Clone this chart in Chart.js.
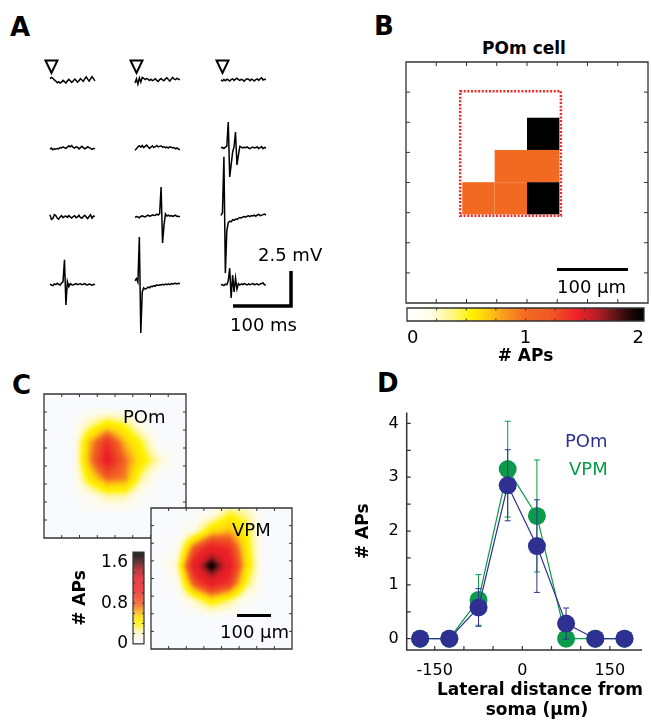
<!DOCTYPE html>
<html>
<head>
<meta charset="utf-8">
<script src="https://cdn.jsdelivr.net/npm/chart.js@4.4.0/dist/chart.umd.min.js"></script>
<style>
  body { margin: 0; background: #fff; width: 651px; height: 725px; position: relative; overflow: hidden;
         font-family: 'DejaVu Sans', sans-serif; }
  canvas, .t, .bar { position: absolute; }
  .t { white-space: nowrap; line-height: 1; color: #000; font-size: 18px; }
  .letter { font-weight: bold; font-size: 26px; }
  .bold { font-weight: bold; font-size: 17px; }
  .bar { background: #000; }
</style>
</head>
<body>
<!-- panel letters -->
<div class="t letter" style="left:10px;top:13.5px">A</div>
<div class="t letter" style="left:374px;top:12.5px">B</div>
<div class="t letter" style="left:12px;top:371.5px">C</div>
<div class="t letter" style="left:377px;top:369.5px">D</div>

<!-- A -->
<canvas id="chartA" width="260" height="290" style="left:40px;top:50px"></canvas>
<div class="t" style="left:258px;top:246.3px">2.5 mV</div>
<div class="t" style="left:230px;top:315.8px">100 ms</div>

<!-- B -->
<div class="t bold" style="left:424px;width:200px;text-align:center;top:39.8px">POm cell</div>
<canvas id="chartB" width="246" height="245" style="left:404px;top:60px"></canvas>
<div class="bar" style="left:557px;top:267.5px;width:71px;height:3.5px"></div>
<div class="t" style="left:557px;top:278px">100 μm</div>
<canvas id="barB" width="251" height="65" style="left:400px;top:305px"></canvas>

<!-- C -->
<canvas id="chartCpom" width="146" height="148" style="left:42px;top:392px"></canvas>
<div class="t" style="left:123px;top:407.8px">POm</div>
<canvas id="chartCvpm" width="145" height="145" style="left:149px;top:506px"></canvas>
<div class="t" style="left:232px;top:521.3px">VPM</div>
<div class="bar" style="left:237px;top:614px;width:34px;height:3.3px"></div>
<div class="t" style="left:220px;top:622.8px">100 μm</div>
<canvas id="barC" width="90" height="122" style="left:60px;top:537px"></canvas>

<!-- D -->
<canvas id="chartD" width="311" height="330" style="left:340px;top:395px"></canvas>
<div class="t" style="left:565px;top:431.8px;color:#2e3192">POm</div>
<div class="t" style="left:569px;top:459.8px;color:#0b9b4a">VPM</div>
<div class="t bold" style="left:437px;width:200px;text-align:center;top:679px;line-height:20px">Lateral distance from<br>soma (μm)</div>

<script>
// ---- A: example traces (mV relative to baseline, one sample per 2.5 ms)
const traceStepMs = 2.5;
const traceR1C1 = [0.10, 0.18, 0.12, 0.00, -0.08, -0.20, -0.12, -0.22, -0.15, -0.03, -0.12, -0.22, -0.08, 0.04, -0.06, -0.18, -0.08, 0.06, -0.03, -0.16, -0.06, 0.10, 0.00, -0.10, 0.08, 0.22, 0.06, -0.08, 0.08, 0.24, 0.10, -0.06];
const traceR1C2 = [-0.22, 0.08, -0.30, 0.15, -0.15, 0.18, 0.12, 0.03, 0.10, 0.06, -0.04, 0.05, -0.05, 0.00, 0.08, -0.03, -0.10, 0.03, 0.10, 0.00, -0.06, 0.08, 0.16, 0.03, -0.08, 0.06, 0.18, 0.06, 0.03, 0.12, 0.06, 0.00];
const traceR1C3 = [0.00, -0.07, 0.03, -0.05, 0.05, 0.00, -0.08, 0.03, 0.08, -0.03, 0.06, 0.12, 0.03, -0.03, 0.05, 0.00, -0.09, 0.03, 0.09, 0.05, -0.05, 0.06, 0.00, -0.08, 0.03, 0.08, -0.03, 0.09, 0.16, 0.00, 0.05, 0.03];
const traceR2C1 = [-0.08, 0.00, -0.12, -0.06, -0.09, -0.03, -0.05, 0.03, 0.00, 0.08, 0.03, -0.03, 0.06, 0.16, 0.09, 0.18, 0.05, 0.00, 0.09, 0.06, -0.06, 0.03, 0.12, 0.03, -0.06, 0.00, 0.09, 0.03, -0.03, -0.09, -0.03, -0.08];
const traceR2C2 = [-0.16, -0.06, 0.08, 0.16, 0.06, 0.18, 0.03, 0.12, 0.21, 0.09, -0.03, 0.06, 0.16, 0.03, 0.09, 0.18, 0.08, 0.12, 0.16, 0.06, 0.09, 0.03, 0.06, 0.00, 0.09, 0.06, 0.00, 0.03, -0.06, 0.00, -0.08, -0.12];
const traceR2C3 = [0.00, 0.05, -0.04, 0.06, 0.12, 1.86, -2.07, -1.20, -0.30, 0.10, 1.14, -1.21, -0.50, 0.12, 0.06, 0.00, 0.05, 0.03, 0.08, 0.00, -0.05, 0.03, 0.07, 0.00, 0.04, 0.08, -0.03, 0.03, 0.10, -0.05, 0.04, 0.00];
const traceR3C1 = [0.16, -0.18, -0.12, 0.16, 0.09, -0.08, -0.16, 0.00, 0.09, -0.06, 0.03, 0.06, -0.03, 0.09, 0.00, -0.08, 0.03, 0.08, -0.06, 0.00, 0.12, -0.03, -0.09, 0.03, 0.12, 0.00, -0.12, 0.03, 0.16, -0.09, 0.06, 0.03];
const traceR3C2 = [-0.03, 0.03, 0.00, -0.06, 0.03, 0.08, 0.03, 0.00, 0.07, 0.13, 0.05, 0.08, 0.15, 0.10, 0.12, 0.20, 0.14, 0.24, 2.14, -1.86, -0.60, 0.22, 0.06, 0.12, 0.05, 0.10, 0.03, 0.08, 0.12, 0.03, 0.05, 0.02];
const traceR3C3 = [0.10, 0.30, 4.29, -4.00, -1.00, -0.40, -0.30, -0.35, -0.20, -0.25, -0.15, -0.18, -0.10, -0.05, -0.08, 0.00, 0.02, -0.02, 0.05, 0.08, 0.02, 0.10, 0.07, 0.12, 0.05, 0.14, 0.18, 0.09, 0.12, 0.16, 0.20, 0.13];
const traceR4C1 = [0.06, 0.00, -0.05, 0.08, 0.02, 0.12, 0.05, 0.00, 0.14, 0.22, 1.80, -1.43, 0.25, -0.12, 0.10, 0.02, 0.00, 0.05, 0.10, 0.02, 0.06, 0.08, 0.02, 0.05, 0.10, 0.02, 0.00, 0.06, 0.04, -0.03, 0.05, 0.02];
const traceR4C2 = [0.30, 0.45, 0.20, 3.43, -3.43, -0.50, -0.20, -0.30, -0.25, -0.15, -0.20, -0.10, -0.12, -0.05, -0.08, 0.00, -0.04, 0.02, 0.00, 0.05, 0.00, 0.06, 0.02, 0.08, 0.02, 0.10, 0.05, 0.10, 0.12, 0.07, 0.12, 0.09];
const traceR4C3 = [0.00, 0.03, -0.04, 0.06, 0.02, 0.30, 1.20, -0.93, 0.70, -0.50, 0.50, -0.30, 0.10, 0.00, 0.08, 0.02, 0.10, 0.05, 0.00, 0.08, 0.02, 0.06, 0.10, 0.02, 0.05, 0.08, 0.00, 0.06, 0.10, 0.14, 0.02, 0.00];
const traceGrid = [
  [traceR1C1, traceR1C2, traceR1C3],
  [traceR2C1, traceR2C2, traceR2C3],
  [traceR3C1, traceR3C2, traceR3C3],
  [traceR4C1, traceR4C2, traceR4C3]
];
// layout of the trace grid in chart units (ms, mV)
const traceColStartMs = [17.2, 163.8, 312.1];
const traceRowBaseMv = [18.57, 13.71, 8.79, 3.93];

// ---- B: single POm cell map (APs per site), rows top to bottom
const bCellValues = [
  [0, 0, 2],
  [0, 1, 1],
  [1, 1, 2]
];
const bRange = [0, 2];
const bBarTicks = [0, 1, 2];

// ---- C: averaged maps, coarse grids (rows top to bottom)
const pomMap = [
  [0, 0, 0, 0, 0, 0, 0, 0],
  [0, 0, 0, 0, 0, 0, 0, 0],
  [0, 0, 0.25, 0.45, 0.35, 0.1, 0, 0],
  [0, 0, 0.6, 1.0, 0.6, 0.35, 0, 0],
  [0, 0, 0.65, 1.15, 0.75, 0.45, 0.2, 0],
  [0, 0, 0.45, 0.75, 0.7, 0.25, 0, 0],
  [0, 0, 0.1, 0.25, 0.25, 0.05, 0, 0],
  [0, 0, 0, 0, 0, 0, 0, 0]
];
const vpmMap = [
  [0, 0, 0, 0.1, 0.35, 0.25, 0, 0],
  [0, 0, 0.15, 0.5, 0.6, 0.4, 0, 0],
  [0, 0.05, 0.8, 1.15, 1.0, 0.45, 0, 0],
  [0, 0.2, 1.15, 1.8, 1.2, 0.5, 0, 0],
  [0, 0.05, 0.8, 1.15, 0.95, 0.35, 0, 0],
  [0, 0, 0.2, 0.45, 0.3, 0.05, 0, 0],
  [0, 0, 0, 0, 0, 0, 0, 0],
  [0, 0, 0, 0, 0, 0, 0, 0]
];
const cRange = [0, 1.8];
const cTickVals = [0, 0.8, 1.6];

// ---- D: APs vs lateral distance
const distances = [-175, -125, -75, -25, 25, 75, 125, 175];
const pomAPs = [0, 0, 0.58, 2.85, 1.72, 0.28, 0, 0];
const pomErr = [0, 0, 0.35, 0.66, 0.86, 0.29, 0, 0];
const vpmAPs = [0, 0, 0.72, 3.15, 2.28, 0, 0, 0];
const vpmErr = [0, 0, 0.47, 0.89, 1.04, 0, 0, 0];
const dXTicks = [-150, 0, 150];
const dYTicks = [0, 1, 2, 3, 4];

const POM_BLUE = '#2e3192';
const VPM_GREEN = '#0b9b4a';

Chart.defaults.font.family = "'DejaVu Sans', sans-serif";
Chart.defaults.color = '#000';
Chart.defaults.animation = false;
Chart.defaults.events = [];
Chart.defaults.plugins.legend.display = false;
Chart.defaults.plugins.tooltip.enabled = false;

// colour maps white -> yellow -> orange -> red -> black
const bStops = [
  [0, '#ffffff'], [0.1, '#fffde8'], [0.2, '#fff57a'], [0.27, '#fff200'], [0.33, '#fdd20c'],
  [0.4, '#f9a31b'], [0.5, '#f26a22'], [0.6, '#f15a24'], [0.72, '#ec2227'], [0.8, '#b81e24'],
  [0.88, '#601516'], [0.95, '#1a0505'], [1, '#000000']
];
const cStops = [
  [0, '#f8fafd'], [0.08, '#fdfbe6'], [0.15, '#fff6a0'], [0.22, '#fff200'], [0.3, '#fed80a'],
  [0.36, '#f9a11b'], [0.42, '#f36523'], [0.5, '#ef4425'], [0.6, '#ea2127'], [0.7, '#e41f26'],
  [0.8, '#b01c20'], [0.88, '#5a1212'], [0.95, '#150303'], [1, '#000000']
];
function hexRgb(h) { return [1, 3, 5].map(k => parseInt(h.slice(k, k + 2), 16)); }
function makeCmap(stops) {
  const s = stops.map(p => [p[0], hexRgb(p[1])]);
  return t => {
    t = Math.max(0, Math.min(1, t));
    for (let k = 1; k < s.length; k++) {
      if (t <= s[k][0]) {
        const [t0, c0] = s[k - 1], [t1, c1] = s[k];
        const f = (t - t0) / (t1 - t0);
        return c0.map((v, m) => Math.round(v + (c1[m] - v) * f));
      }
    }
    return s[s.length - 1][1];
  };
}
const cmapB = makeCmap(bStops);
const cmapC = makeCmap(cStops);
const rgbStr = c => 'rgb(' + c.join(',') + ')';

// frame + inward ticks
const frame = {
  id: 'frame',
  afterDraw(chart, args, o) {
    const { ctx, chartArea: a, scales: { x, y } } = chart;
    ctx.save();
    ctx.strokeStyle = o.color || '#333';
    ctx.lineWidth = o.tickWidth || 1;
    ctx.beginPath();
    (o.xTicks || []).forEach(v => {
      const p = x.getPixelForValue(v);
      ctx.moveTo(p, a.bottom); ctx.lineTo(p, a.bottom - o.len);
      if (o.box) { ctx.moveTo(p, a.top); ctx.lineTo(p, a.top + o.len); }
    });
    (o.yTicks || []).forEach(v => {
      const p = y.getPixelForValue(v);
      ctx.moveTo(a.left, p); ctx.lineTo(a.left + o.len, p);
      if (o.box) { ctx.moveTo(a.right, p); ctx.lineTo(a.right - o.len, p); }
    });
    ctx.stroke();
    ctx.lineWidth = o.width || 1.2;
    ctx.beginPath();
    if (o.box) {
      ctx.rect(a.left, a.top, a.right - a.left, a.bottom - a.top);
    } else {
      ctx.moveTo(a.left, a.top); ctx.lineTo(a.left, a.bottom); ctx.lineTo(a.right, a.bottom);
    }
    ctx.stroke();
    ctx.restore();
  }
};

function hiddenScales(xmin, xmax, ymin, ymax, rev) {
  return {
    x: { type: 'linear', display: false, min: xmin, max: xmax },
    y: { type: 'linear', display: false, min: ymin, max: ymax, reverse: !!rev }
  };
}
const range = (a, b, s) => { const r = []; for (let v = a; v <= b + 1e-9; v += s) r.push(+v.toFixed(4)); return r; };

// ---------- A
const aDatasets = [];
traceGrid.forEach((row, r) => row.forEach((tr, c) => {
  aDatasets.push({
    data: tr.map((v, i) => ({ x: traceColStartMs[c] + i * traceStepMs, y: traceRowBaseMv[r] + v })),
    borderColor: '#000', borderWidth: 1.5, pointRadius: 0, tension: 0, fill: false
  });
}));
const aMarks = {
  id: 'aMarks',
  afterDraw(chart) {
    const { ctx, scales: { x, y } } = chart;
    ctx.save();
    ctx.strokeStyle = '#000';
    // stimulus triangles above first row
    ctx.lineWidth = 2;
    const top = y.getPixelForValue(traceRowBaseMv[0]) - 19.5;
    traceColStartMs.forEach(t => {
      const cx = x.getPixelForValue(t) + 1.5;
      ctx.beginPath();
      ctx.moveTo(cx - 6, top); ctx.lineTo(cx + 6, top); ctx.lineTo(cx, top + 12.5); ctx.closePath();
      ctx.stroke();
    });
    // scale bar 100 ms x 2.5 mV
    const t0 = 432.8, v0 = 2.43;
    ctx.lineWidth = 3.5;
    ctx.beginPath();
    ctx.moveTo(x.getPixelForValue(t0 - 100), y.getPixelForValue(v0));
    ctx.lineTo(x.getPixelForValue(t0), y.getPixelForValue(v0));
    ctx.lineTo(x.getPixelForValue(t0), y.getPixelForValue(v0 + 2.5));
    ctx.stroke();
    ctx.restore();
  }
};
new Chart(document.getElementById('chartA'), {
  type: 'line',
  data: { datasets: aDatasets },
  options: {
    responsive: false, devicePixelRatio: 1, layout: { padding: 0 },
    scales: hiddenScales(0, 448.3, 0, 20.71)
  },
  plugins: [aMarks]
});

// ---------- B
const bCellX0 = 1.86, bCellY0 = 1.85, bCell = 1.07;
const bDotted = [1.79, 0.97, 5.12, 5.10];
const bCells = {
  id: 'bCells',
  beforeDatasetsDraw(chart) {
    const { ctx, scales: { x, y } } = chart;
    ctx.save();
    bCellValues.forEach((row, r) => row.forEach((v, c) => {
      if (v <= 0) return;
      const x0 = x.getPixelForValue(bCellX0 + c * bCell), x1 = x.getPixelForValue(bCellX0 + (c + 1) * bCell);
      const y0 = y.getPixelForValue(bCellY0 + r * bCell), y1 = y.getPixelForValue(bCellY0 + (r + 1) * bCell);
      ctx.fillStyle = rgbStr(cmapB((v - bRange[0]) / (bRange[1] - bRange[0])));
      ctx.fillRect(x0, y0, x1 - x0, y1 - y0);
    }));
    ctx.strokeStyle = '#ee2a2a';
    ctx.lineWidth = 2.5;
    ctx.setLineDash([2, 1.6]);
    const dx0 = x.getPixelForValue(bDotted[0]), dy0 = y.getPixelForValue(bDotted[1]);
    const dx1 = x.getPixelForValue(bDotted[2]), dy1 = y.getPixelForValue(bDotted[3]);
    ctx.strokeRect(dx0, dy0, dx1 - dx0, dy1 - dy0);
    ctx.restore();
  }
};
new Chart(document.getElementById('chartB'), {
  type: 'scatter',
  data: { datasets: [] },
  options: {
    responsive: false, devicePixelRatio: 1, layout: { padding: 2 },
    scales: hiddenScales(0, 8, 0, 8, true),
    plugins: { frame: { box: true, len: 4, xTicks: range(1, 7, 1), yTicks: range(1, 7, 1), width: 1.3 } }
  },
  plugins: [bCells, frame]
});

// colour bar B
const barFillH = {
  id: 'barFillH',
  beforeDatasetsDraw(chart) {
    const { ctx, chartArea: a } = chart;
    for (let px = a.left; px < a.right; px++) {
      ctx.fillStyle = rgbStr(cmapB((px + 0.5 - a.left) / (a.right - a.left)));
      ctx.fillRect(px, a.top, 1, a.bottom - a.top);
    }
  }
};
new Chart(document.getElementById('barB'), {
  type: 'scatter',
  data: { datasets: [] },
  options: {
    responsive: false, devicePixelRatio: 1,
    layout: { padding: { left: 6, right: 3, top: 3, bottom: 0 } },
    scales: {
      x: {
        type: 'linear', min: bRange[0], max: bRange[1],
        afterBuildTicks: s => { s.ticks = bBarTicks.map(v => ({ value: v })); },
        afterFit: s => { s.height = 49; },
        grid: { display: false, drawTicks: false }, border: { display: false },
        ticks: { font: { size: 18 }, padding: 7, align: 'inner', autoSkip: false, maxRotation: 0, callback: v => String(v) },
        title: { display: true, text: '# APs', font: { size: 17, weight: 'bold' }, padding: { top: 0, bottom: 3 } }
      },
      y: { type: 'linear', display: false, min: 0, max: 1 }
    },
    plugins: { frame: { box: true, len: 2.5, xTicks: range(0.25, 1.75, 0.25), width: 1.3 } }
  },
  plugins: [barFillH, frame]
});

// ---------- C
function heatPlugin(grid, ox, oy, vmax) {
  return {
    id: 'heat',
    beforeDatasetsDraw(chart) {
      const { ctx, chartArea: a, scales: { x, y } } = chart;
      const w = Math.round(a.right - a.left), h = Math.round(a.bottom - a.top);
      const off = document.createElement('canvas');
      off.width = w; off.height = h;
      const octx = off.getContext('2d');
      const img = octx.createImageData(w, h);
      const node = (j, i) => (j >= 0 && j < grid.length && i >= 0 && i < grid[0].length) ? grid[j][i] : 0;
      for (let py = 0; py < h; py++) {
        const gy = y.getValueForPixel(a.top + py + 0.5) - oy;
        const j0 = Math.floor(gy), fy = gy - j0;
        for (let px = 0; px < w; px++) {
          const gx = x.getValueForPixel(a.left + px + 0.5) - ox;
          const i0 = Math.floor(gx), fx = gx - i0;
          const v = node(j0, i0) * (1 - fx) * (1 - fy) + node(j0, i0 + 1) * fx * (1 - fy)
                  + node(j0 + 1, i0) * (1 - fx) * fy + node(j0 + 1, i0 + 1) * fx * fy;
          const c = cmapC(v / vmax);
          const k = (py * w + px) * 4;
          img.data[k] = c[0]; img.data[k + 1] = c[1]; img.data[k + 2] = c[2]; img.data[k + 3] = 255;
        }
      }
      octx.putImageData(img, 0, 0);
      ctx.save();
      ctx.beginPath(); ctx.rect(a.left, a.top, w, h); ctx.clip();
      ctx.fillStyle = rgbStr(cmapC(0)); ctx.fillRect(a.left, a.top, w, h);
      ctx.filter = 'blur(1px)';
      ctx.drawImage(off, a.left, a.top);
      ctx.restore();
    }
  };
}
function mapChart(id, grid, ox, oy) {
  new Chart(document.getElementById(id), {
    type: 'scatter',
    data: { datasets: [] },
    options: {
      responsive: false, devicePixelRatio: 1, layout: { padding: 2 },
      scales: hiddenScales(0, 8, 0, 8, true),
      plugins: { frame: { box: true, len: 3, xTicks: range(1, 7, 1), yTicks: range(1, 7, 1), width: 1.3 } }
    },
    plugins: [heatPlugin(grid, ox, oy, cRange[1]), frame]
  });
}
mapChart('chartCpom', pomMap, 0.55, -0.31);
mapChart('chartCvpm', vpmMap, 0.43, 0.28);

// colour bar C
const barFillV = {
  id: 'barFillV',
  beforeDatasetsDraw(chart) {
    const { ctx, chartArea: a } = chart;
    for (let py = a.top; py < a.bottom; py++) {
      ctx.fillStyle = rgbStr(cmapC((a.bottom - py - 0.5) / (a.bottom - a.top)));
      ctx.fillRect(a.left, py, a.right - a.left, 1);
    }
  }
};
new Chart(document.getElementById('barC'), {
  type: 'scatter',
  data: { datasets: [] },
  options: {
    responsive: false, devicePixelRatio: 1,
    layout: { padding: { left: 0, right: 6, top: 8, bottom: 9 } },
    scales: {
      x: { type: 'linear', display: false, min: 0, max: 1 },
      y: {
        type: 'linear', min: cRange[0], max: cRange[1],
        afterBuildTicks: s => { s.ticks = cTickVals.map(v => ({ value: v })); },
        afterFit: s => { s.width = 73; },
        grid: { display: false, drawTicks: false }, border: { display: false },
        ticks: { font: { size: 17 }, padding: 5, autoSkip: false, callback: v => String(v) },
        title: { display: true, text: '# APs', font: { size: 17, weight: 'bold' }, padding: { top: 10, bottom: 0 } }
      }
    },
    plugins: { frame: { box: true, len: 2, yTicks: range(0.2, 1.6, 0.2), width: 1.2 } }
  },
  plugins: [barFillV, frame]
});

// ---------- D
const errorBars = {
  id: 'errorBars',
  beforeDatasetDraw(chart, args) {
    const ds = chart.data.datasets[args.index];
    if (!ds.errors) return;
    const { ctx, scales: { x, y } } = chart;
    ctx.save();
    ctx.strokeStyle = ds.borderColor;
    ctx.lineWidth = 1;
    ds.data.forEach((p, i) => {
      const e = ds.errors[i];
      if (!e) return;
      const px = x.getPixelForValue(p.x);
      const lo = y.getPixelForValue(p.y - e), hi = y.getPixelForValue(p.y + e);
      ctx.beginPath();
      ctx.moveTo(px, lo); ctx.lineTo(px, hi);
      ctx.moveTo(px - 3, lo); ctx.lineTo(px + 3, lo);
      ctx.moveTo(px - 3, hi); ctx.lineTo(px + 3, hi);
      ctx.stroke();
    });
    ctx.restore();
  }
};
function dSeries(label, vals, errs, color) {
  return {
    label, errors: errs,
    data: distances.map((d, i) => ({ x: d, y: vals[i] })),
    borderColor: color, backgroundColor: color, borderWidth: 1.2,
    pointRadius: 9, pointBorderWidth: 0, pointBackgroundColor: color, tension: 0
  };
}
new Chart(document.getElementById('chartD'), {
  type: 'line',
  data: {
    datasets: [
      dSeries('POm', pomAPs, pomErr, POM_BLUE),
      dSeries('VPM', vpmAPs, vpmErr, VPM_GREEN)
    ]
  },
  options: {
    responsive: false, devicePixelRatio: 1, clip: false,
    layout: { padding: { left: 0, right: 3, top: 15, bottom: 0 } },
    scales: {
      x: {
        type: 'linear', min: -198, max: 205,
        afterBuildTicks: s => { s.ticks = dXTicks.map(v => ({ value: v })); },
        afterFit: s => { s.height = 75; },
        grid: { display: false, drawTicks: false }, border: { display: false },
        ticks: { font: { size: 16 }, padding: 11, autoSkip: false, maxRotation: 0, callback: v => String(v) }
      },
      y: {
        type: 'linear', min: -0.21, max: 4.2,
        afterBuildTicks: s => { s.ticks = dYTicks.map(v => ({ value: v })); },
        afterFit: s => { s.width = 66.7; },
        grid: { display: false, drawTicks: false }, border: { display: false },
        ticks: { font: { size: 16 }, padding: 8, autoSkip: false, callback: v => String(v) },
        title: { display: true, text: '# APs', font: { size: 17, weight: 'bold' }, padding: { top: 13, bottom: 0 } }
      }
    },
    plugins: { frame: { box: false, len: 4, xTicks: range(-150, 150, 50), yTicks: range(0, 4, 0.5), width: 1.5, tickWidth: 1.2 } }
  },
  plugins: [errorBars, frame]
});
</script>
</body>
</html>
